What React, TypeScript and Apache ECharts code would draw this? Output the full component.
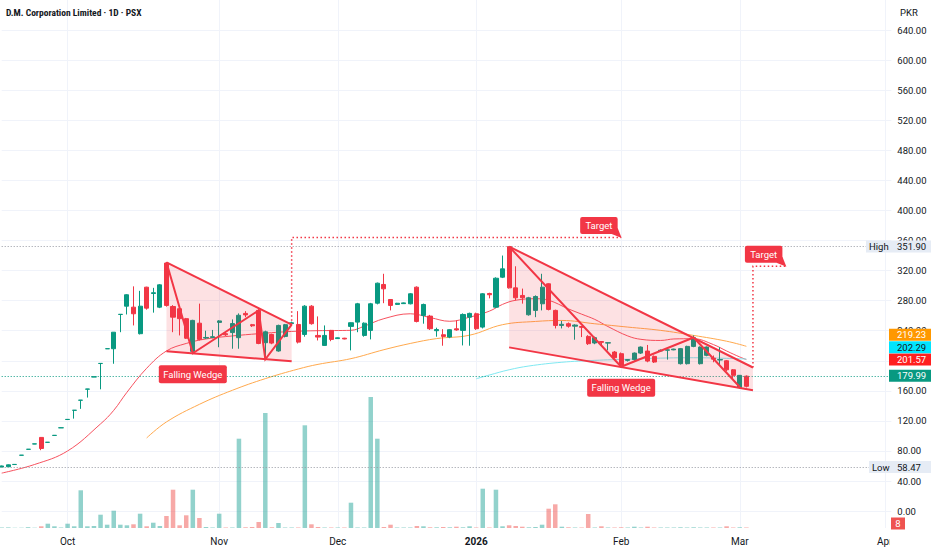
import React, { useEffect, useRef } from 'react';
import * as echarts from 'echarts';

// ---- time scale (trading days per month; first bar of each month gets the label)
const months = ['Sep', 'Oct', 'Nov', 'Dec', '2026', 'Feb', 'Mar', 'Apr'];
const barsPerMonth = [10, 23, 18, 21, 22, 18, 22, 2];

// ---- daily candles [open, close, low, high]
const candles: number[][] = [
  [58.5, 60, 58.47, 60.5], [59, 61.5, 58.6, 62], [61.9, 62.1, 61.8, 62.3], [74.2, 74.4, 74.2, 74.5],
  [82.1, 82.3, 82, 82.4], [89.2, 89.4, 89.1, 89.5], [98, 83.3, 81, 98.3], [91.4, 91.6, 91.3, 91.7],
  [100.6, 100.8, 100.5, 100.9], [110.7, 110.9, 110.6, 111], [121.8, 122, 121.7, 122.1], [134, 134.2, 123, 134.3],
  [147.4, 147.6, 136, 147.7], [162.2, 162.4, 151, 162.5], [178.4, 178.6, 178.3, 178.7], [196.3, 196.5, 162, 196.6],
  [215.9, 216.1, 215.8, 216.2], [216, 238, 196, 238.2], [261.6, 261.8, 238, 261.9], [272.6, 287.8, 261.6, 288.5],
  [271.3, 262.5, 247, 299], [236, 272.6, 235, 293], [297.9, 270, 268, 298.5], [289.5, 290.5, 264, 297],
  [271.3, 301, 270, 302], [330, 273.6, 272, 331], [272.2, 258, 238, 274], [269.2, 256, 233.7, 270],
  [256, 230, 229, 257], [212.5, 253.7, 211.6, 254.5], [250, 228.4, 227, 276], [230.2, 231, 229, 240],
  [231, 232, 230, 241], [251, 253, 218, 254], [236, 234.5, 233, 238], [237.5, 249.5, 216, 255],
  [230.7, 260.5, 216, 263], [263, 261, 258, 266], [248, 246.5, 245, 249], [267, 223, 222, 268.5],
  [224, 238.5, 203, 240], [235, 223.5, 222, 236], [213, 247, 212, 248], [232.4, 248, 231, 249],
  [249.5, 250.5, 248, 252], [248.3, 224.8, 223, 266], [235, 272.6, 232, 274], [272.6, 249.3, 248, 274],
  [233.7, 231.5, 227, 259], [220.4, 233.7, 220, 247], [240.4, 228.4, 226, 241], [229.5, 230.5, 229, 231],
  [230, 229, 228.5, 230.5], [245.7, 250.6, 213.8, 251], [251.4, 275.8, 238, 277], [233.7, 250, 232, 251],
  [240.4, 275.8, 228.4, 277], [276.6, 303.2, 275, 304], [301.5, 295.7, 276.6, 315.7], [281.5, 273.6, 267, 282],
  [275, 276.5, 274.5, 277], [276, 277, 275.5, 277.5], [275.8, 289.1, 275, 290], [297.9, 252.3, 251, 299],
  [260.3, 274.9, 249.3, 276], [259.4, 242.6, 241, 261], [240, 241.5, 232, 244], [234.6, 232.4, 220, 242],
  [231.5, 241.3, 230, 242], [242.5, 241, 240, 253.6], [240.4, 261.6, 220.4, 263], [258, 263, 220, 264],
  [262.5, 242.6, 241, 264], [244.8, 289.1, 243, 290], [289.5, 287.8, 283, 290.5], [271.3, 309.8, 270, 311],
  [311.2, 322.3, 310, 340], [351.9, 297, 296, 351.9], [297, 283.8, 280.2, 325.7], [286.9, 283.8, 276, 296],
  [261.2, 283.8, 260, 285], [267, 285.5, 258, 287], [275.8, 297.9, 267, 315.7], [302.4, 268.3, 267, 303],
  [267, 247, 243, 268], [247, 248.5, 243, 253], [249.3, 246, 244, 251], [246, 247.5, 228, 248.5],
  [245.5, 244.5, 231.5, 246], [232.4, 222.7, 221, 234], [223.6, 230.7, 222, 232], [225.5, 224.5, 220, 226],
  [223.5, 224, 213.8, 224.5], [211.6, 204.1, 203, 213], [209.4, 193.9, 192, 211], [200.5, 201.5, 199, 202],
  [201.5, 210.2, 200, 211], [210.2, 218.2, 209, 219], [212.9, 199.6, 198, 221], [205.8, 198.3, 197, 207],
  [213, 214, 212, 215], [214, 214.5, 201.5, 215], [214.5, 215.5, 214, 216], [196.1, 216.1, 195, 217],
  [196.1, 219.1, 195, 220], [219.1, 230.7, 218, 233.7], [196.1, 218.2, 195, 219], [207.2, 218.2, 206, 219],
  [203.5, 202.1, 198, 207], [201, 201.5, 194, 218], [200, 188, 186, 201], [188, 180.6, 176, 189],
  [164.3, 180.6, 163, 181], [179.5, 166, 164.5, 180.5],
];

// ---- volume (relative units)
const volumes: number[] = [
  0.5, 0.6, 0.3, 0.3, 0.8, 0.3, 1.7, 4.3, 1.7, 0.5, 4.3, 1.7, 37.7, 1.7, 2, 13.3, 3.3, 17.3, 3.3, 2.7,
  3.7, 14.3, 1.7, 5.3, 2, 12, 38.3, 2.7, 12.7, 38.3, 10, 1, 0.5, 14.3, 0.5, 0.5, 89.3, 0.7, 1, 6,
  115, 0.7, 5, 0.5, 0.5, 0.5, 102.7, 3.7, 1, 0.5, 0.5, 0.5, 0.5, 25.3, 0.5, 0.5, 131, 89.3, 1, 3.3,
  0.5, 0.5, 0.5, 2, 1.7, 0.7, 0.7, 1, 0.7, 1.3, 0.7, 1.7, 0.5, 39.3, 0.5, 38.3, 1.7, 2.7, 2, 1.3,
  0.7, 1, 3.3, 19.3, 23.7, 1.3, 0.7, 0.5, 0.5, 14, 0.5, 1.7, 0.5, 0.5, 0.7, 0.5, 1.3, 0.5, 1.3, 0.5,
  0.5, 0.5, 0.5, 0.7, 0.5, 0.7, 0.5, 0.5, 0.5, 0.5, 1.7, 0.5, 0.7, 0.5,
];

// ---- moving averages [barIndex, value]
const maRed: number[][] = [
  [0, 50.5], [5, 62], [10, 80], [15, 116], [17, 134], [19, 158], [22, 190], [25, 213], [28, 223], [31, 229],
  [35, 233], [39, 236], [44, 239], [48, 240], [53, 240.5], [55, 246], [58, 256], [62, 262.5], [65, 257.5],
  [68, 252.5], [71, 258], [74, 266], [76, 275], [78, 280.5], [81, 282.5], [83, 280.5], [86, 269], [88, 262],
  [90, 255], [92, 245.5], [95, 233], [97, 228.5], [100, 227], [102, 229], [105, 229.3], [108, 221.5],
  [110, 213], [112, 205], [113, 201.57],
];
const maOrange: number[][] = [
  [22, 97.3], [25, 118.6], [30, 142], [35, 160.7], [40, 176.2], [45, 189], [48, 195.2], [53, 202.8],
  [58, 214.7], [62, 223], [66, 229.5], [71, 234], [76, 248], [81, 252.3], [85, 253.6], [90, 249.2],
  [95, 244.8], [100, 240.4], [105, 233.7], [110, 226], [113, 219.23],
];
const maCyan: number[][] = [
  [72, 176], [74, 181], [77, 188], [80, 193], [85, 198], [90, 200.5], [95, 202], [100, 203.5],
  [105, 204], [110, 203.2], [113, 202.29],
];

// ---- reference levels
const highValue = 351.9;
const lowValue = 58.47;
const lastValue = 179.99;
const maLastValues = [219.23, 202.29, 201.57];

// ---- drawings [barIndex, price]
const wedge1Upper = [[25, 331], [44, 248]];
const wedge1Lower = [[25, 212.5], [44, 199.2]];
const wedge1Zigzag = [[25, 331], [29, 210], [39, 267], [40, 202], [44, 248]];
const wedge1Target = [[44, 248], [44, 364], [93.8, 364]];
const wedge1Label = [29, 210];

const wedge2Upper = [[77, 351.9], [114.3, 191]];
const wedge2Lower = [[77, 217.8], [114.3, 160.7]];
const wedge2Zigzag = [[77, 351.9], [94.1, 192], [105, 231], [112, 165]];
const wedge2Target = [[114.3, 191], [114.3, 325.7], [119.3, 325.7]];
const wedge2Label = [94.1, 192];

const UP = '#089981';
const DOWN = '#f23645';
const FONT = 'Roboto, "Noto Sans", sans-serif';

const categories: string[] = [];
const monthStart: Record<number, string> = {};
months.forEach((m, mi) => {
  for (let k = 0; k < barsPerMonth[mi]; k++) {
    if (k === 0) monthStart[categories.length] = m;
    categories.push(`${m} ${k + 1}`);
  }
});
const isMonthStart = (i: number) => i > 0 && monthStart[i] !== undefined;

function textEl(text: string, x: number, y: number, fill: string, size: number, align = 'left', weight: any = 'normal', family = FONT) {
  return {
    type: 'text',
    style: {
      text, x, y, fill, fontSize: size, fontFamily: family, fontWeight: weight,
      align, verticalAlign: 'middle', textAlign: align, textVerticalAlign: 'middle',
    },
  };
}

function renderAnnotations(params: any, api: any) {
  if (params.dataIndex !== 0) return null;
  const c = (p: number[]) => api.coord([p[0], p[1]]);
  const children: any[] = [];
  const wedges = [
    { upper: wedge1Upper, lower: wedge1Lower, zig: wedge1Zigzag, target: wedge1Target, label: wedge1Label },
    { upper: wedge2Upper, lower: wedge2Lower, zig: wedge2Zigzag, target: wedge2Target, label: wedge2Label },
  ];
  wedges.forEach((w) => {
    const poly = [c(w.upper[0]), c(w.upper[1]), c(w.lower[1]), c(w.lower[0])];
    children.push({ type: 'polygon', shape: { points: poly }, style: { fill: 'rgba(242,54,69,0.15)' } });
    children.push({ type: 'polyline', shape: { points: w.upper.map((p) => c(p)) }, style: { stroke: DOWN, lineWidth: 2, fill: 'none' } });
    children.push({ type: 'polyline', shape: { points: w.lower.map((p) => c(p)) }, style: { stroke: DOWN, lineWidth: 2, fill: 'none' } });
    children.push({ type: 'polyline', shape: { points: w.zig.map((p) => c(p)) }, style: { stroke: DOWN, lineWidth: 2, fill: 'none' } });
    children.push({ type: 'polyline', shape: { points: w.target.map((p) => c(p)) }, style: { stroke: DOWN, lineWidth: 1.5, fill: 'none', lineDash: [1.5, 2.5] } });
    const end = c(w.target[w.target.length - 1]);
    const bw = 37.5, bh = 17;
    const bx = end[0] - 41, by = end[1] - 20.5;
    children.push({ type: 'polygon', shape: { points: [[bx + bw, by + bh - 6], [bx + bw - 6, by + bh], [end[0] + 0.5, end[1] + 0.5]] }, style: { fill: DOWN } });
    children.push({ type: 'rect', shape: { x: bx, y: by, width: bw, height: bh, r: 2 }, style: { fill: DOWN } });
    children.push(textEl('Target', bx + bw / 2, by + bh / 2, '#ffffff', 9.5, 'center'));
    const b = c(w.label);
    children.push({ type: 'rect', shape: { x: b[0] - 34, y: b[1] + 12, width: 68, height: 18, r: 2 }, style: { fill: DOWN } });
    children.push(textEl('Falling Wedge', b[0], b[1] + 21, '#ffffff', 9.5, 'center'));
  });
  return { type: 'group', children };
}

function buildOption(): any {
  return {
    animation: false,
    backgroundColor: '#ffffff',
    grid: [
      { left: 1.7, right: 40.65, top: -1.125, bottom: 8.875 },
      { left: 1.7, right: 40.65, top: 0, bottom: 22 },
    ],
    xAxis: [
      { type: 'category', gridIndex: 0, data: categories, boundaryGap: false, show: false },
      {
        type: 'category', gridIndex: 1, data: categories, boundaryGap: false,
        axisLine: { show: false }, axisTick: { show: false },
        axisLabel: {
          interval: (i: number) => isMonthStart(i),
          formatter: (_v: string, i: number) => (monthStart[i] === '2026' ? '{b|2026}' : monthStart[i] || ''),
          color: '#131722', fontSize: 10, fontFamily: FONT, margin: 8,
          rich: { b: { fontWeight: 'bold', fontSize: 10, color: '#131722', fontFamily: FONT } },
        },
        splitLine: { show: true, interval: (i: number) => isMonthStart(i), lineStyle: { color: '#f0f3fa', width: 1 } },
      },
    ],
    yAxis: [
      {
        type: 'value', gridIndex: 0, position: 'right', min: -40, max: 680, interval: 40,
        axisLine: { show: false }, axisTick: { show: false },
        axisLabel: {
          showMinLabel: false, showMaxLabel: false, align: 'left', margin: 6,
          color: '#131722', fontSize: 9.5, fontFamily: FONT,
          formatter: (v: number) => (v < 0 || v > 640 ? '' : v.toFixed(2)),
        },
        splitLine: { show: true, showMinLine: false, showMaxLine: false, lineStyle: { color: '#f0f3fa', width: 1 } },
      },
      { type: 'value', gridIndex: 1, min: 0, max: 528, show: false, splitLine: { show: false } },
    ],
    series: [
      {
        type: 'bar', xAxisIndex: 1, yAxisIndex: 1, barWidth: 4.5, z: 1, silent: true,
        data: volumes.map((v, i) => ({
          value: v,
          itemStyle: { color: candles[i] && candles[i][1] >= candles[i][0] ? 'rgba(38,166,154,0.5)' : 'rgba(239,83,80,0.5)' },
        })),
      },
      {
        type: 'candlestick', xAxisIndex: 0, yAxisIndex: 0, barWidth: 4.6, z: 3, silent: true,
        data: candles,
        itemStyle: { color: UP, color0: DOWN, borderColor: UP, borderColor0: DOWN, borderWidth: 1 },
        markLine: {
          silent: true, symbol: ['none', 'none'], label: { show: false }, animation: false,
          data: [
            { yAxis: highValue, lineStyle: { color: '#9598a1', type: [1, 2], width: 1 } },
            { yAxis: lowValue, lineStyle: { color: '#9598a1', type: [1, 2], width: 1 } },
            { yAxis: lastValue, lineStyle: { color: UP, type: [1, 2], width: 1 } },
          ],
        },
      },
      { type: 'line', xAxisIndex: 0, yAxisIndex: 0, data: maRed, showSymbol: false, smooth: 0.4, z: 2, silent: true, lineStyle: { color: '#f7525f', width: 1 } },
      { type: 'line', xAxisIndex: 0, yAxisIndex: 0, data: maOrange, showSymbol: false, smooth: 0.4, z: 2, silent: true, lineStyle: { color: '#ffa94d', width: 1 } },
      { type: 'line', xAxisIndex: 0, yAxisIndex: 0, data: maCyan, showSymbol: false, smooth: 0.4, z: 2, silent: true, lineStyle: { color: '#7fe9f2', width: 1 } },
      { type: 'custom', xAxisIndex: 0, yAxisIndex: 0, data: [[0, 0]], renderItem: renderAnnotations, z: 5, silent: true, clip: false },
    ],
  };
}

function buildGraphics(chart: any): any[] {
  const y = (v: number) => chart.convertToPixel({ yAxisIndex: 0 }, v) as number;
  const els: any[] = [];
  const boxX = 889, boxW = 42, boxH = 12, txtX = 897;
  // title & currency
  els.push({ ...textEl('D.M. Corporation Limited · 1D · PSX', 6, 12, '#131722', 9.5, 'left', 'bold', '"Liberation Sans Narrow", "Roboto Condensed", Roboto, sans-serif'), z: 100 });
  els.push({ ...textEl('PKR', 900, 12, '#131722', 9.5), z: 100 });
  // High / Low
  ([['High', highValue, 23], ['Low', lowValue, 20]] as any[]).forEach(([name, v, lw]) => {
    const cy = y(v);
    els.push({ type: 'rect', shape: { x: boxX - lw, y: cy - boxH / 2, width: lw + boxW, height: boxH }, style: { fill: '#e6ecf5' }, z: 100 });
    els.push({ ...textEl(name, boxX - lw + 3, cy, '#131722', 9.5), z: 101 });
    els.push({ ...textEl(v.toFixed(2), txtX, cy, '#131722', 9.5), z: 101 });
  });
  // stacked value badges
  const badges = [
    { v: lastValue, bg: UP, fg: '#ffffff' },
    { v: maLastValues[2], bg: '#ff1f1f', fg: '#ffffff' },
    { v: maLastValues[1], bg: '#00e5ff', fg: '#131722' },
    { v: maLastValues[0], bg: '#ff9800', fg: '#ffffff' },
  ];
  let prev = Infinity;
  badges.forEach((b) => {
    const cy = Math.min(y(b.v), prev - 12.4);
    prev = cy;
    els.push({ type: 'rect', shape: { x: boxX, y: cy - boxH / 2, width: boxW, height: boxH }, style: { fill: b.bg }, z: 100 });
    els.push({ ...textEl(b.v.toFixed(2), txtX, cy, b.fg, 9.5), z: 101 });
  });
  // volume badge
  els.push({ type: 'rect', shape: { x: 891, y: 517.5, width: 14, height: 12 }, style: { fill: '#ef5350' }, z: 100 });
  els.push({ ...textEl('8', 898, 523.5, '#ffffff', 9.5, 'center'), z: 101 });
  // time-scale edge (clips the last month label like the price scale does)
  els.push({ type: 'rect', shape: { x: 890, y: 531, width: 42, height: 19 }, style: { fill: '#ffffff' }, z: 99 });
  return els;
}

export default function App() {
  const ref = useRef<HTMLDivElement>(null);
  useEffect(() => {
    document.body.style.margin = '0';
    const chart = echarts.init(ref.current as HTMLDivElement, null, { renderer: 'svg', width: 932, height: 550 });
    chart.setOption(buildOption());
    chart.setOption({ graphic: { elements: buildGraphics(chart) } });
    return () => chart.dispose();
  }, []);
  return <div ref={ref} style={{ position: 'absolute', left: 0, top: 0, width: 932, height: 550, background: '#fff' }} />;
}
